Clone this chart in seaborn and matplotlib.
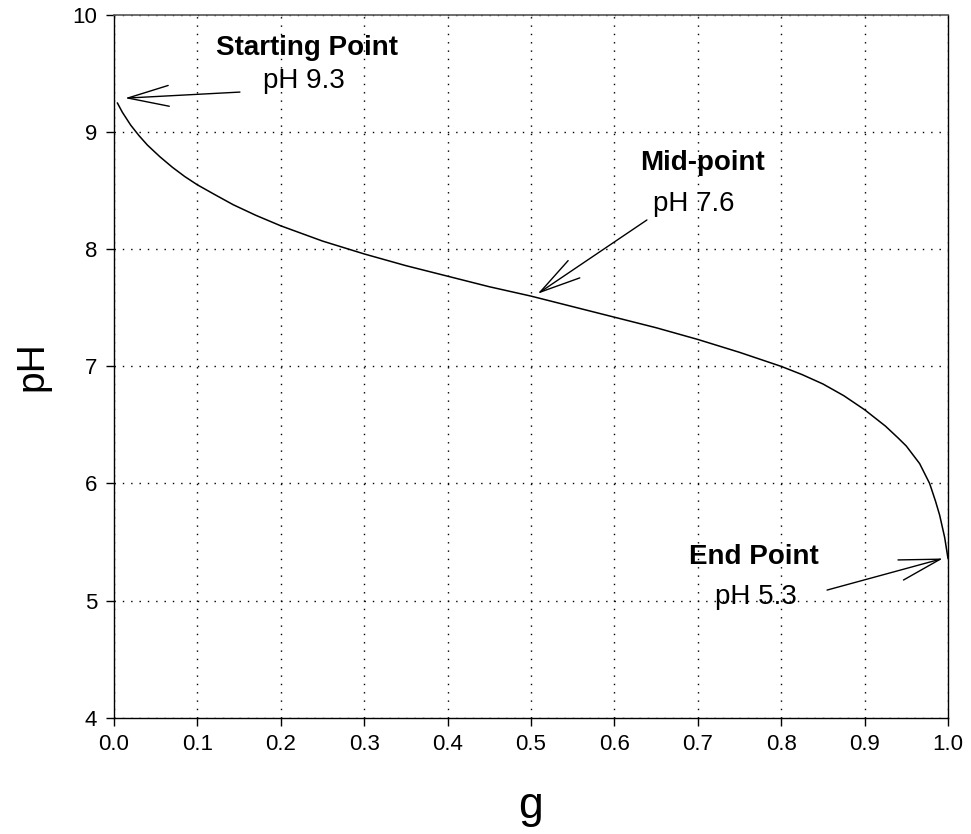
import pandas as pd
import numpy as np
import seaborn as sns
import matplotlib.pyplot as plt

# values
g_values = [0.004, 0.01, 0.02, 0.03, 0.04, 0.055, 0.07, 0.085, 0.1, 0.12, 0.143,
            0.17, 0.2, 0.25, 0.3, 0.35, 0.4, 0.45, 0.5, 0.55, 0.6, 0.65, 0.7,
            0.75, 0.8, 0.825, 0.85, 0.875, 0.9, 0.925, 0.94, 0.95, 0.966, 0.978,
            0.985, 0.99, 0.996, 1.0]
ph_values = [9.25, 9.17, 9.06, 8.97, 8.89, 8.79, 8.70, 8.62, 8.55, 8.47, 8.38,
             8.29, 8.20, 8.07, 7.96, 7.86, 7.77, 7.68, 7.60, 7.51, 7.42, 7.33, 7.23,
             7.12, 7.0, 6.93, 6.85, 6.75, 6.63, 6.49, 6.39, 6.32, 6.17, 6.0,
             5.85, 5.73, 5.54, 5.36]
x_ticks = [0.0, 0.1, 0.2, 0.3, 0.4, 0.5, 0.6, 0.7, 0.8, 0.9, 1.0]
y_ticks = [4, 5, 6, 7, 8, 9, 10]
point_titles = ["Starting Point", "Mid-point", "End Point"]
point_labels = ["pH 9.3", "pH 7.6", "pH 5.3"]

df = pd.DataFrame({"g": g_values, "pH": ph_values})

sns.set_style("ticks")
plt.rcParams['font.family'] = ['Liberation Sans', 'DejaVu Sans']
plt.rcParams['text.color'] = "black"
plt.rcParams['axes.labelcolor'] = "black"

fig = plt.figure(figsize=(9.71, 8.34), dpi=100)
ax = fig.add_axes([0.1174, 0.1394, 0.8589, 0.8426])

sns.lineplot(data=df, x="g", y="pH", color="black", linewidth=1.1, ax=ax)

ax.set_xlim(0, 1)
ax.set_ylim(4, 10)
ax.set_xticks(x_ticks)
ax.set_xticklabels([f"{t:.1f}" for t in x_ticks])
ax.set_yticks(y_ticks)
ax.set_yticklabels([str(t) for t in y_ticks])
ax.tick_params(axis="both", direction="out", length=6, width=1, labelsize=16,
               colors="black", pad=6)
ax.grid(True, color="black", linestyle=(0, (1, 5)), linewidth=1.0)

for side in ["left", "bottom", "right"]:
    ax.spines[side].set_color("black")
    ax.spines[side].set_linewidth(1.0)
ax.spines["top"].set_color("#555555")
ax.spines["top"].set_linewidth(1.2)

ax.set_xlabel("g", fontsize=32, labelpad=22, color="black")
ax.set_ylabel("pH", fontsize=28, labelpad=16, color="black")

arrow = dict(arrowstyle="->,head_length=2.95,head_width=0.75", color="black",
             lw=1.0, shrinkA=0, shrinkB=0, mutation_scale=10)

# starting point
ax.text(0.231, 9.72, point_titles[0], ha="center", va="center", fontsize=20,
        fontweight="bold", color="black")
ax.text(0.228, 9.44, point_labels[0], ha="center", va="center", fontsize=20, color="black")
ax.annotate("", xy=(0.0132, 9.29), xytext=(0.151, 9.342), arrowprops=arrow)

# mid point
ax.text(0.706, 8.735, point_titles[1], ha="center", va="center", fontsize=20,
        fontweight="bold", color="black")
ax.text(0.695, 8.39, point_labels[1], ha="center", va="center", fontsize=20, color="black")
ax.annotate("", xy=(0.508, 7.62), xytext=(0.639, 8.25), arrowprops=arrow)

# end point
ax.text(0.767, 5.376, point_titles[2], ha="center", va="center", fontsize=20,
        fontweight="bold", color="black")
ax.text(0.77, 5.03, point_labels[2], ha="center", va="center", fontsize=20, color="black")
ax.annotate("", xy=(0.994, 5.36), xytext=(0.855, 5.09), arrowprops=arrow)

plt.savefig("out.png", dpi=100)
